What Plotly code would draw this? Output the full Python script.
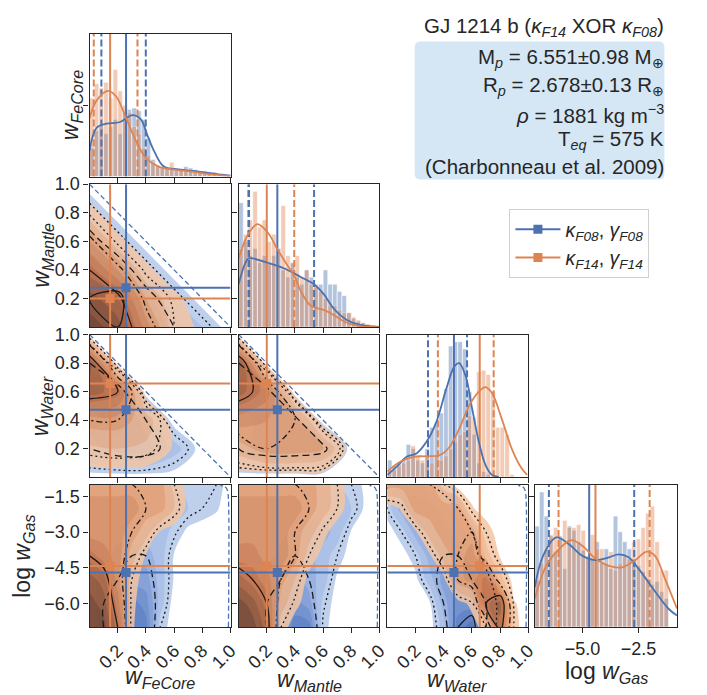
import numpy as np
import plotly.graph_objects as go

FONT = "Liberation Sans, Arial, sans-serif"
BLUE = "#4C72B0"
ORANGE = "#DD8452"
INK = "#262626"

# ---------------- data ----------------
# posterior summaries (FeCore, Mantle, Water, log Gas)
blue_median = [0.259, 0.275, 0.473, -4.70]
blue_p16 = [0.084, 0.074, 0.289, -6.50]
blue_p84 = [0.399, 0.536, 0.566, -2.69]
orange_median = [0.146, 0.200, 0.656, -4.42]
orange_p16 = [0.030, 0.068, 0.359, -6.07]
orange_p84 = [0.340, 0.395, 0.755, -2.00]

# histogram bins
w_bin_start, w_bin_width, w_nbins = 0.0, 1 / 30, 30
gas_bin_start, gas_bin_width, gas_nbins = -7.13, 0.206, 29

# normalised histogram heights
hist_fecore_blue = [0.20, 0.32, 0.35, 0.30, 0.35, 0.40, 0.30, 0.45, 0.47, 0.48, 0.46, 0.40, 0.27, 0.12, 0.07,
                    0.06, 0.06, 0.05, 0.05, 0.05, 0.07, 0.06, 0.05, 0.04, 0.04, 0.03, 0.03, 0.02, 0.02, 0.01]
hist_fecore_orange = [0.55, 0.65, 0.62, 0.66, 0.55, 0.75, 0.60, 0.50, 0.45, 0.35, 0.30, 0.20, 0.15, 0.10, 0.08,
                      0.07, 0.06, 0.10, 0.05, 0.05, 0.04, 0.04, 0.03, 0.03, 0.02, 0.02, 0.02, 0.01, 0.01, 0.00]
hist_mantle_blue = [0.87, 0.60, 0.50, 0.55, 0.45, 0.50, 0.45, 0.50, 0.55, 0.40, 0.35, 0.45, 0.35, 0.30, 0.40,
                    0.35, 0.28, 0.30, 0.40, 0.30, 0.30, 0.25, 0.22, 0.10, 0.06, 0.04, 0.03, 0.02, 0.01, 0.01]
hist_mantle_orange = [0.55, 0.65, 0.75, 0.95, 0.70, 0.75, 0.60, 0.65, 0.55, 0.85, 0.50, 0.45, 0.50, 0.35, 0.40,
                      0.30, 0.30, 0.25, 0.20, 0.15, 0.15, 0.12, 0.10, 0.10, 0.07, 0.05, 0.03, 0.02, 0.01, 0.00]
hist_water_blue = [0.12, 0.08, 0.10, 0.12, 0.23, 0.20, 0.12, 0.10, 0.20, 0.35, 0.38, 0.45, 0.62, 0.92, 0.95,
                   0.95, 0.90, 0.60, 0.30, 0.10, 0.04, 0.02, 0.00, 0.00, 0.00, 0.00, 0.00, 0.00, 0.00, 0.00]
hist_water_orange = [0.05, 0.05, 0.08, 0.10, 0.12, 0.22, 0.15, 0.12, 0.15, 0.10, 0.15, 0.12, 0.15, 0.20, 0.25,
                     0.30, 0.32, 0.43, 0.42, 0.74, 0.75, 0.72, 0.60, 0.35, 0.35, 0.30, 0.02, 0.00, 0.00, 0.00]
hist_gas_blue = [0.71, 0.95, 0.78, 0.64, 0.53, 0.64, 0.41, 0.71, 0.68, 0.60, 0.54, 0.49, 0.47, 0.60, 0.45,
                 0.55, 0.41, 0.78, 0.67, 0.60, 0.55, 0.48, 0.43, 0.39, 0.34, 0.30, 0.32, 0.25, 0.20]
hist_gas_orange = [0.33, 0.45, 0.55, 0.65, 0.70, 0.63, 0.75, 0.70, 0.70, 0.72, 0.68, 0.50, 0.65, 0.55, 0.55,
                   0.45, 0.53, 0.40, 0.45, 0.50, 0.48, 0.60, 0.62, 0.70, 0.80, 0.85, 0.60, 0.40, 0.40]

# KDE curves (normalised)
kde_fecore_blue_x = [0.0, 0.049, 0.119, 0.212, 0.305, 0.364, 0.41, 0.457, 0.527, 0.632, 0.772, 0.912, 1.0]
kde_fecore_blue_y = [0.18, 0.34, 0.37, 0.38, 0.43, 0.40, 0.29, 0.18, 0.07, 0.05, 0.035, 0.016, 0.007]
kde_fecore_orange_x = [0.0, 0.049, 0.13, 0.189, 0.259, 0.329, 0.399, 0.49, 0.585, 0.725, 0.865, 1.0]
kde_fecore_orange_y = [0.41, 0.53, 0.60, 0.56, 0.41, 0.25, 0.13, 0.07, 0.05, 0.035, 0.016, 0.005]
kde_mantle_blue_x = [0.0, 0.068, 0.10, 0.208, 0.325, 0.442, 0.535, 0.605, 0.675, 0.769, 0.862, 0.995]
kde_mantle_blue_y = [0.30, 0.48, 0.48, 0.45, 0.41, 0.35, 0.30, 0.23, 0.13, 0.05, 0.016, 0.002]
kde_mantle_orange_x = [0.0, 0.068, 0.133, 0.208, 0.278, 0.348, 0.395, 0.442, 0.512, 0.605, 0.675, 0.769, 0.862, 0.995]
kde_mantle_orange_y = [0.48, 0.65, 0.72, 0.66, 0.54, 0.43, 0.36, 0.25, 0.15, 0.12, 0.085, 0.03, 0.007, 0.0]
kde_water_blue_x = [0.0, 0.067, 0.137, 0.207, 0.277, 0.347, 0.417, 0.475, 0.51, 0.557, 0.603, 0.65, 0.697, 0.743, 0.79]
kde_water_blue_y = [0.016, 0.074, 0.143, 0.166, 0.246, 0.384, 0.614, 0.775, 0.80, 0.706, 0.476, 0.246, 0.085, 0.016, 0.002]
kde_water_orange_x = [0.0, 0.091, 0.184, 0.277, 0.37, 0.44, 0.51, 0.58, 0.65, 0.697, 0.743, 0.813, 0.883, 0.953, 0.993]
kde_water_orange_y = [0.04, 0.108, 0.143, 0.147, 0.154, 0.21, 0.338, 0.50, 0.60, 0.632, 0.59, 0.407, 0.20, 0.062, 0.016]
kde_gas_blue_x = [-7.13, -6.76, -6.17, -5.59, -5.0, -4.41, -3.82, -3.38, -2.94, -2.5, -1.76, -1.17, -0.78]
kde_gas_blue_y = [0.28, 0.50, 0.63, 0.58, 0.50, 0.47, 0.49, 0.51, 0.49, 0.41, 0.25, 0.13, 0.08]
kde_gas_orange_x = [-7.13, -6.62, -6.03, -5.51, -5.0, -4.41, -3.82, -3.23, -2.64, -2.13, -1.76, -1.32, -0.78]
kde_gas_orange_y = [0.20, 0.43, 0.55, 0.61, 0.57, 0.48, 0.43, 0.42, 0.47, 0.53, 0.50, 0.34, 0.13]

# 2-D posterior density grids (arbitrary units, rows = y values)
w_grid = [0.0, 0.2, 0.4, 0.6, 0.8, 1.0]
gas_x_grid = [0.0, 0.1, 0.2, 0.3, 0.4, 0.5, 0.6, 0.7, 0.8, 0.9, 1.0]
gas_y_grid = [-7.0, -6.0, -5.0, -4.0, -3.0, -2.0, -1.0]

dens_mantle_fecore_blue = [
    [5.0, 6.0, 5.0, 3.0, 1.5, 0.0],
    [6.0, 6.5, 4.0, 1.5, 0.0, 0.0],
    [5.0, 4.5, 1.5, 0.0, 0.0, 0.0],
    [4.0, 1.5, 0.0, 0.0, 0.0, 0.0],
    [1.5, 0.0, 0.0, 0.0, 0.0, 0.0],
    [0.0, 0.0, 0.0, 0.0, 0.0, 0.0]]
dens_mantle_fecore_orange = [
    [9.0, 8.0, 4.0, 1.0, 0.3, 0.0],
    [8.0, 6.5, 2.5, 0.7, 0.0, 0.0],
    [6.0, 3.5, 0.7, 0.0, 0.0, 0.0],
    [3.5, 0.7, 0.0, 0.0, 0.0, 0.0],
    [0.8, 0.0, 0.0, 0.0, 0.0, 0.0],
    [0.0, 0.0, 0.0, 0.0, 0.0, 0.0]]
dens_water_fecore_blue = [
    [0.0, 0.0, 0.0, 0.0, 0.0, 0.0],
    [3.0, 4.0, 4.0, 2.0, 0.0, 0.0],
    [4.0, 5.0, 3.0, 0.0, 0.0, 0.0],
    [5.0, 4.0, 0.0, 0.0, 0.0, 0.0],
    [3.0, 0.0, 0.0, 0.0, 0.0, 0.0],
    [0.0, 0.0, 0.0, 0.0, 0.0, 0.0]]
dens_water_fecore_orange = [
    [0.0, 0.0, 0.0, 0.0, 0.0, 0.0],
    [1.3, 1.5, 1.3, 0.4, 0.0, 0.0],
    [3.0, 3.0, 2.0, 0.0, 0.0, 0.0],
    [7.0, 6.0, 0.0, 0.0, 0.0, 0.0],
    [8.0, 0.0, 0.0, 0.0, 0.0, 0.0],
    [0.0, 0.0, 0.0, 0.0, 0.0, 0.0]]
dens_water_mantle_blue = [
    [0.0, 0.0, 0.0, 0.0, 0.0, 0.0],
    [3.0, 4.0, 4.0, 3.5, 0.0, 0.0],
    [3.0, 4.0, 3.5, 0.0, 0.0, 0.0],
    [4.0, 3.5, 0.0, 0.0, 0.0, 0.0],
    [3.0, 0.0, 0.0, 0.0, 0.0, 0.0],
    [0.0, 0.0, 0.0, 0.0, 0.0, 0.0]]
dens_water_mantle_orange = [
    [0.0, 0.0, 0.0, 0.0, 0.0, 0.0],
    [2.0, 3.0, 3.0, 2.5, 0.0, 0.0],
    [4.0, 3.5, 3.0, 0.0, 0.0, 0.0],
    [7.0, 5.0, 0.0, 0.0, 0.0, 0.0],
    [8.0, 0.0, 0.0, 0.0, 0.0, 0.0],
    [0.0, 0.0, 0.0, 0.0, 0.0, 0.0]]
dens_gas_fecore_blue = [
    [2, 3, 4, 6, 6, 1.0, 0, 0, 0, 0, 0],
    [2, 3, 4, 6, 5, 2.0, 0, 0, 0, 0, 0],
    [2, 3, 3, 4, 4, 2.0, 0.4, 0, 0, 0, 0],
    [2, 2, 3, 3, 3, 2.0, 0.4, 0, 0, 0, 0],
    [2, 2, 2, 2, 2, 2.0, 1.2, 0.2, 0, 0, 0],
    [2, 2, 2, 2, 2, 2.0, 2.0, 1.5, 1.0, 0.6, 0],
    [1.5, 1.5, 1.5, 1.5, 1.5, 1.5, 1.5, 1.5, 1.5, 1.0, 0]]
dens_gas_fecore_orange = [
    [9, 9, 6, 0.6, 0, 0, 0, 0, 0, 0, 0],
    [9, 8, 5, 0.7, 0, 0, 0, 0, 0, 0, 0],
    [8, 7, 4, 1.0, 0, 0, 0, 0, 0, 0, 0],
    [6, 5, 4, 2.0, 0.4, 0, 0, 0, 0, 0, 0],
    [4, 4, 4, 3.0, 2.0, 0.4, 0, 0, 0, 0, 0],
    [4, 4, 4, 4.0, 3.0, 3.0, 1.5, 0.2, 0, 0, 0],
    [3, 3, 3, 3.0, 3.0, 3.0, 1.0, 0.2, 0, 0, 0]]
dens_gas_mantle_blue = [
    [2, 2, 3, 4, 6, 6, 0.8, 0, 0, 0, 0],
    [2, 2, 3, 4, 5, 4, 1.2, 0, 0, 0, 0],
    [2, 2, 3, 3, 4, 3, 2.0, 0.3, 0, 0, 0],
    [2, 2, 2, 3, 3, 3, 2.0, 1.0, 0, 0, 0],
    [2, 2, 2, 2, 3, 3, 3.0, 2.0, 0.4, 0, 0],
    [2, 2, 2, 2, 2, 2, 2.0, 2.0, 1.5, 0.3, 0],
    [1.5, 1.5, 1.5, 1.5, 1.5, 1.5, 1.5, 1.5, 1.0, 0.3, 0]]
dens_gas_mantle_orange = [
    [9, 9, 7, 1.0, 0, 0, 0, 0, 0, 0, 0],
    [9, 8, 6, 2.0, 0.8, 0, 0, 0, 0, 0, 0],
    [7, 6, 5, 3.0, 1.5, 0.2, 0, 0, 0, 0, 0],
    [5, 5, 4, 4.0, 3.0, 1.0, 0.2, 0, 0, 0, 0],
    [4, 4, 4, 4.0, 3.0, 2.0, 0.8, 0, 0, 0, 0],
    [4, 4, 4, 4.0, 4.0, 3.0, 2.0, 1.0, 0, 0, 0],
    [3, 3, 3, 3.0, 3.0, 3.0, 2.0, 1.0, 0, 0, 0]]
dens_gas_water_blue = [
    [0, 0, 0, 0, 2, 6, 7, 3, 0.2, 0, 0],
    [0, 0, 0, 0.3, 3, 5, 5, 3, 0.3, 0, 0],
    [0, 0, 0.2, 2, 4, 4, 3, 1.5, 0, 0, 0],
    [0, 0, 1, 3, 3, 3, 2, 0.4, 0, 0, 0],
    [0, 1, 3, 3, 3, 2, 1, 0, 0, 0, 0],
    [1, 3, 3, 3, 2, 1, 0, 0, 0, 0, 0],
    [1, 2, 2, 1, 0.3, 0, 0, 0, 0, 0, 0]]
dens_gas_water_orange = [
    [0, 0, 0, 0, 0, 0, 0, 1.0, 7, 0.8, 0],
    [0, 0, 0, 0, 0, 0, 0.8, 6, 8, 0.6, 0],
    [0, 0, 0, 0, 0.2, 3, 4, 6, 2, 0, 0],
    [0, 0, 0, 0.3, 2, 3, 4, 2, 0.4, 0, 0],
    [0, 0, 0.3, 2, 3, 3, 3, 1, 0, 0, 0],
    [0, 0.6, 3, 3, 3, 3, 0.6, 0, 0, 0, 0],
    [3, 3, 3, 3, 1, 0, 0, 0, 0, 0, 0]]

# sigma levels of the density grids (1σ, 2σ, 3σ)
sigma_levels = [6.0, 3.0, 1.0]

# outer edge of the F08 prior support
edge_w_x = [0.0, 1.0]
edge_w_y = [1.0, 0.0]
edge_gas_x = [0.985, 0.985, 0.978, 0.96, 0.93]
edge_gas_y = [-6.98, -1.6, -1.25, -1.1, -1.05]

# axis ranges and ticks
var_range = [[0, 1], [0, 1], [0, 1], [-6.98, -1.02]]
gas_hist_range = [-7.13, -0.78]
w_ticks = [0.2, 0.4, 0.6, 0.8, 1.0]
gas_ticks = [-1.5, -3.0, -4.5, -6.0]
gas_hist_ticks = [-5.0, -2.5]
diag_ticks = [[0.5], [0.2, 0.4, 0.6, 0.8], [0.2, 0.4, 0.6, 0.8], [0.164, 0.41, 0.665, 0.92]]

labels = ["<i>w</i><sub><i>FeCore</i></sub>", "<i>w</i><sub><i>Mantle</i></sub>",
          "<i>w</i><sub><i>Water</i></sub>", "log <i>w</i><sub><i>Gas</i></sub>"]
legend_names = ["<i>κ</i><sub><i>F08</i></sub>, <i>γ</i><sub><i>F08</i></sub>",
                "<i>κ</i><sub><i>F14</i></sub>, <i>γ</i><sub><i>F14</i></sub>"]
title_text = "GJ 1214 b (<i>κ</i><sub><i>F14</i></sub> XOR <i>κ</i><sub><i>F08</i></sub>)"
info_lines = ["M<sub><i>p</i></sub> = 6.551±0.98 M<sub>⊕</sub>",
              "R<sub><i>p</i></sub> = 2.678±0.13 R<sub>⊕</sub>",
              "<i>ρ</i> = 1881 kg m<sup>−3</sup>",
              "T<sub><i>eq</i></sub> = 575 K",
              "(Charbonneau et al. 2009)"]

# ---------------- layout geometry (pixels) ----------------
W, H = 707, 695
cols_px = [(90.7, 233.5), (241.7, 384.3), (392.3, 535.0), (541.7, 685.7)]
rows_px = [(24.0, 169.0), (176.7, 321.7), (329.3, 474.0), (481.7, 626.0)]


def px_x(p):
    return p / W


def px_y(p):
    return 1 - p / H


def ax_names(r, c):
    n = r * 4 + c + 1
    return ("x" if n == 1 else f"x{n}"), ("y" if n == 1 else f"y{n}"), n


fig = go.Figure()
layout_axes = {}

for r in range(4):
    for c in range(r + 1):
        xa, ya, n = ax_names(r, c)
        common = dict(showline=True, mirror=True, linecolor=INK, linewidth=1.3, ticks="outside",
                      ticklen=5, tickwidth=1.2, tickcolor=INK, showgrid=False, zeroline=False,
                      tickfont=dict(size=18, color=INK, family=FONT))
        xdict = dict(common, domain=[px_x(cols_px[c][0]), px_x(cols_px[c][1])], anchor=ya)
        ydict = dict(common, domain=[px_y(rows_px[r][1]), px_y(rows_px[r][0])], anchor=xa)
        if r == c:
            if c == 3:
                xdict.update(range=gas_hist_range, tickvals=gas_hist_ticks, tickformat=".1f")
            else:
                xdict.update(range=var_range[c], tickvals=w_ticks, tickformat=".1f")
            ydict.update(range=[0, 1], tickvals=diag_ticks[r], showticklabels=False)
        else:
            xdict.update(range=var_range[c], tickvals=(gas_ticks if c == 3 else w_ticks), tickformat=".1f")
            ydict.update(range=var_range[r], tickvals=(gas_ticks if r == 3 else w_ticks), tickformat=".1f")
            ydict.update(showticklabels=(c == 0))
        xdict["showticklabels"] = (r == 3)
        if r == 3 and c < 3:
            xdict["tickangle"] = -45
        if r == 3 and c == 3:
            xdict["tickangle"] = 0
        layout_axes["xaxis" if n == 1 else f"xaxis{n}"] = xdict
        layout_axes["yaxis" if n == 1 else f"yaxis{n}"] = ydict

# ---------------- diagonal panels ----------------
hist_blue = [hist_fecore_blue, hist_mantle_blue, hist_water_blue, hist_gas_blue]
hist_orange = [hist_fecore_orange, hist_mantle_orange, hist_water_orange, hist_gas_orange]
kde_blue = [(kde_fecore_blue_x, kde_fecore_blue_y), (kde_mantle_blue_x, kde_mantle_blue_y),
            (kde_water_blue_x, kde_water_blue_y), (kde_gas_blue_x, kde_gas_blue_y)]
kde_orange = [(kde_fecore_orange_x, kde_fecore_orange_y), (kde_mantle_orange_x, kde_mantle_orange_y),
              (kde_water_orange_x, kde_water_orange_y), (kde_gas_orange_x, kde_gas_orange_y)]
DASH = "7px,3px"

for c in range(4):
    xa, ya, _ = ax_names(c, c)
    if c < 3:
        centers = w_bin_start + (np.arange(w_nbins) + 0.5) * w_bin_width
        bw = w_bin_width
    else:
        centers = gas_bin_start + (np.arange(gas_nbins) + 0.5) * gas_bin_width
        bw = gas_bin_width
    for heights, col in ((hist_blue[c], BLUE), (hist_orange[c], ORANGE)):
        fig.add_trace(go.Bar(x=centers, y=heights, width=bw, marker=dict(color=col, line=dict(color="white", width=0.6)),
                             opacity=0.42, xaxis=xa, yaxis=ya, showlegend=False, hoverinfo="skip"))
    for col, med, lo, hi in ((ORANGE, orange_median, orange_p16, orange_p84), (BLUE, blue_median, blue_p16, blue_p84)):
        for v, d in ((lo[c], DASH), (med[c], "solid"), (hi[c], DASH)):
            fig.add_trace(go.Scatter(x=[v, v], y=[0, 1], mode="lines", line=dict(color=col, width=2, dash=d),
                                     xaxis=xa, yaxis=ya, showlegend=False, hoverinfo="skip"))
    for (kx, ky), col in ((kde_blue[c], BLUE), (kde_orange[c], ORANGE)):
        fig.add_trace(go.Scatter(x=kx, y=ky, mode="lines", line=dict(color=col, width=1.8, shape="spline"),
                                 xaxis=xa, yaxis=ya, showlegend=False, hoverinfo="skip"))

# ---------------- off-diagonal panels ----------------
panels = [
    (1, 0, w_grid, w_grid, dens_mantle_fecore_blue, dens_mantle_fecore_orange),
    (2, 0, w_grid, w_grid, dens_water_fecore_blue, dens_water_fecore_orange),
    (2, 1, w_grid, w_grid, dens_water_mantle_blue, dens_water_mantle_orange),
    (3, 0, gas_x_grid, gas_y_grid, dens_gas_fecore_blue, dens_gas_fecore_orange),
    (3, 1, gas_x_grid, gas_y_grid, dens_gas_mantle_blue, dens_gas_mantle_orange),
    (3, 2, gas_x_grid, gas_y_grid, dens_gas_water_blue, dens_gas_water_orange),
]
blue_scale = [[0, "rgba(0,0,0,0)"], [0.1, "#b9cbeb"], [0.3, "#8eaade"], [0.6, "#5479c2"], [1, "#283f70"]]
orange_scale = [[0, "rgba(0,0,0,0)"], [0.1, "#f4c6a4"], [0.3, "#eb9f6c"], [0.6, "#c86c3a"], [1, "#5a2f18"]]
blue_dash = ["solid", "7px,4px", "2px,3px"]
orange_dash = ["solid", "6px,3px,2px,3px", "2px,3px"]

for r, c, gx, gy, zb, zo in panels:
    xa, ya, _ = ax_names(r, c)
    for z, scale, op in ((zb, blue_scale, 0.9), (zo, orange_scale, 0.85)):
        fig.add_trace(go.Contour(x=gx, y=gy, z=z, autocontour=False,
                                 contours=dict(coloring="fill", showlines=False, start=0.5, end=9.5, size=1),
                                 colorscale=scale, showscale=False, opacity=op, showlegend=False,
                                 line=dict(width=0, smoothing=1.0), xaxis=xa, yaxis=ya, hoverinfo="skip"))
    for z, dashes in ((zb, blue_dash), (zo, orange_dash)):
        for lev, d in zip(sigma_levels, dashes):
            fig.add_trace(go.Contour(x=gx, y=gy, z=z, autocontour=False,
                                     contours=dict(coloring="none", showlines=True, start=lev, end=lev, size=1),
                                     line=dict(color="#1a1a1a", width=1.3, dash=d, smoothing=1.0),
                                     showscale=False, showlegend=False, xaxis=xa, yaxis=ya, hoverinfo="skip"))
    ex, ey = (edge_gas_x, edge_gas_y) if r == 3 else (edge_w_x, edge_w_y)
    fig.add_trace(go.Scatter(x=ex, y=ey, mode="lines", line=dict(color=BLUE, width=1.3, dash="5px,3px", shape="spline"),
                             xaxis=xa, yaxis=ya, showlegend=False, hoverinfo="skip"))
    xr, yr = var_range[c], var_range[r]
    for col, med in ((ORANGE, orange_median), (BLUE, blue_median)):
        fig.add_trace(go.Scatter(x=[med[c], med[c]], y=yr, mode="lines", line=dict(color=col, width=2),
                                 xaxis=xa, yaxis=ya, showlegend=False, hoverinfo="skip"))
        fig.add_trace(go.Scatter(x=xr, y=[med[r], med[r]], mode="lines", line=dict(color=col, width=2),
                                 xaxis=xa, yaxis=ya, showlegend=False, hoverinfo="skip"))
        fig.add_trace(go.Scatter(x=[med[c]], y=[med[r]], mode="markers",
                                 marker=dict(color=col, symbol="square", size=9),
                                 xaxis=xa, yaxis=ya, showlegend=False, hoverinfo="skip"))

# legend entries
for name, col in zip(legend_names, (BLUE, ORANGE)):
    fig.add_trace(go.Scatter(x=[None], y=[None], mode="lines+markers", name=name,
                             line=dict(color=col, width=2), marker=dict(color=col, symbol="square", size=9),
                             xaxis="x", yaxis="y"))

# ---------------- annotations ----------------
ann = []
ylab_pos = [(72, 96.5), (43, 249), (42, 401.5), (23, 554)]
for i, (lx, ly) in enumerate(ylab_pos):
    ann.append(dict(text=labels[i], x=px_x(lx), y=px_y(ly), xref="paper", yref="paper", showarrow=False,
                    textangle=-90, xanchor="center", yanchor="middle", font=dict(size=23, color=INK, family=FONT)))
xlab_pos = [(162, 677), (313, 680), (463, 680), (614, 672)]
for i, (lx, ly) in enumerate(xlab_pos):
    ann.append(dict(text=labels[i], x=px_x(lx), y=px_y(ly), xref="paper", yref="paper", showarrow=False,
                    xanchor="center", yanchor="middle", font=dict(size=23, color=INK, family=FONT)))
ann.append(dict(text=title_text, x=px_x(675), y=px_y(17), xref="paper", yref="paper", showarrow=False,
                xanchor="right", yanchor="middle", font=dict(size=20.5, color=INK, family=FONT)))
for t, ly in zip(info_lines, [49, 77, 106, 132, 159]):
    ann.append(dict(text=t, x=px_x(675), y=px_y(ly), xref="paper", yref="paper", showarrow=False,
                    xanchor="right", yanchor="middle", font=dict(size=20.5, color=INK, family=FONT)))

# rounded info box
bx0, bx1, by0, by1, rad = 420, 673, 32, 172, 6
x0, x1 = px_x(bx0), px_x(bx1)
y0, y1 = px_y(by1), px_y(by0)
rx, ry = rad / W, rad / H
path = (f"M {x0+rx},{y0} L {x1-rx},{y0} Q {x1},{y0} {x1},{y0+ry} L {x1},{y1-ry} Q {x1},{y1} {x1-rx},{y1} "
        f"L {x0+rx},{y1} Q {x0},{y1} {x0},{y1-ry} L {x0},{y0+ry} Q {x0},{y0} {x0+rx},{y0} Z")
shapes = [dict(type="path", path=path, xref="paper", yref="paper", fillcolor="#d5e7f5", line=dict(width=0), layer="below")]

fig.update_layout(
    width=W, height=H, margin=dict(l=0, r=0, t=0, b=0),
    paper_bgcolor="white", plot_bgcolor="white", barmode="overlay",
    font=dict(family=FONT, color=INK, size=18),
    showlegend=True,
    legend=dict(x=px_x(516), y=px_y(202), xanchor="left", yanchor="top", bgcolor="white",
                bordercolor="#d0d0d0", borderwidth=1, font=dict(size=19.5, color=INK, family=FONT),
                itemwidth=45, tracegroupgap=6),
    annotations=ann, shapes=shapes,
    **layout_axes,
)

fig.write_html("out.html")
